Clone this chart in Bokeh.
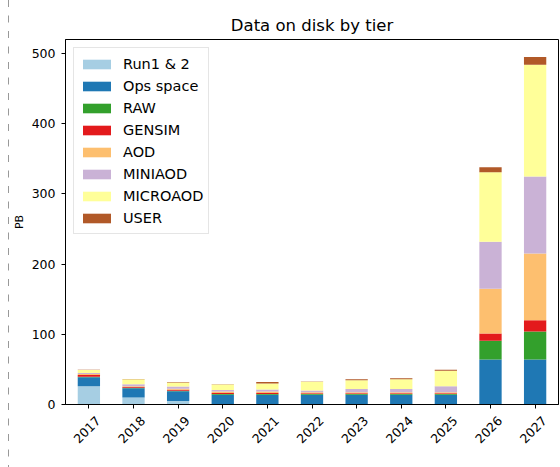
import math
from bokeh.plotting import figure
from bokeh.models import (ColumnDataSource, Legend, LegendItem, Div, FixedTicker,
                          Range1d, LinearAxis)
from bokeh.layouts import row
from bokeh.embed import file_html
from bokeh.resources import INLINE

years = ["2017", "2018", "2019", "2020", "2021", "2022", "2023", "2024", "2025", "2026", "2027"]
run12    = [26, 10, 5, 0, 0, 0, 0, 0, 0, 0, 0]
ops      = [13, 13, 14, 14, 14, 14, 14, 14, 14, 64, 64]
raw      = [0.5, 1, 0.5, 1, 1, 1, 1, 1, 1, 27, 40]
gensim   = [2.5, 1, 1.5, 1.5, 1.5, 1, 1, 1, 1, 10, 16]
aod      = [1.5, 1, 1.5, 2, 2, 1.5, 1.5, 1.5, 1.5, 64, 95]
miniaod  = [1.5, 3, 3, 2, 3, 2.5, 4.5, 4.5, 8.5, 67, 110]
microaod = [4, 7, 6, 8, 8.5, 12.5, 12.5, 14, 22, 99, 159]
user     = [0.5, 0.5, 0.5, 0.5, 2, 0.3, 1.5, 1.5, 1.5, 7, 11]

tiers = ["Run1 & 2", "Ops space", "RAW", "GENSIM", "AOD", "MINIAOD", "MICROAOD", "USER"]
keys = ["run12", "ops", "raw", "gensim", "aod", "miniaod", "microaod", "user"]
colors = ["#a6cee3", "#1f78b4", "#33a02c", "#e31a1c", "#fdbf6f", "#cab2d6", "#ffff99", "#b15928"]
y_ticks = [0, 100, 200, 300, 400, 500]

xs = list(range(len(years)))
src = ColumnDataSource(dict(x=xs, run12=run12, ops=ops, raw=raw, gensim=gensim, aod=aod,
                            miniaod=miniaod, microaod=microaod, user=user))

FONT = "DejaVu Sans"
X0, X1 = -0.524, 10.524
SHIFT = 0.21  # label range shift so right-aligned rotated labels sit centred under ticks
p = figure(width=551, height=467, output_backend="svg", toolbar_location=None,
           x_range=Range1d(X0, X1), y_range=Range1d(0, 520),
           title="Data on disk by tier",
           min_border_left=52, min_border_right=2, min_border_top=39, min_border_bottom=63)
p.margin = (0, 0, 0, 0)
p.extra_x_ranges = {"lab": Range1d(X0 - SHIFT, X1 - SHIFT)}

rs = p.vbar_stack(keys, x="x", width=0.5, color=colors, line_color=None, source=src)

p.title.align = "center"
p.title.text_font = FONT
p.title.text_font_size = "16.5px"
p.title.text_font_style = "normal"
p.title.text_color = "black"

p.xgrid.visible = False
p.ygrid.visible = False
p.outline_line_color = "black"
p.outline_line_width = 1

# main x axis: tick marks only
p.xaxis.ticker = FixedTicker(ticks=xs)
p.xaxis.major_label_overrides = {i: "" for i in xs}
p.xaxis.major_label_standoff = 0
p.xaxis.major_label_text_font_size = "1px"
p.xaxis.minor_tick_line_color = None
p.xaxis.major_tick_in = 0
p.xaxis.major_tick_out = 4
p.xaxis.axis_line_color = "black"
p.xaxis.major_tick_line_color = "black"

# label axis: rotated year labels
lab_axis = LinearAxis(x_range_name="lab", ticker=FixedTicker(ticks=xs),
                      major_label_overrides={i: y for i, y in zip(xs, years)},
                      major_label_orientation=math.pi / 4,
                      major_label_standoff=10,
                      major_tick_in=0, major_tick_out=0,
                      major_tick_line_color=None, minor_tick_line_color=None,
                      axis_line_color=None,
                      major_label_text_font=FONT, major_label_text_font_size="12.5px",
                      major_label_text_color="black")
p.add_layout(lab_axis, "below")

p.yaxis.ticker = FixedTicker(ticks=y_ticks)
p.yaxis.minor_tick_line_color = None
p.yaxis.major_tick_in = 0
p.yaxis.major_tick_out = 4
p.yaxis.major_label_standoff = 6
p.yaxis.axis_line_color = "black"
p.yaxis.major_tick_line_color = "black"
p.yaxis.major_label_text_font = FONT
p.yaxis.major_label_text_font_size = "12.5px"
p.yaxis.major_label_text_color = "black"
p.yaxis.axis_label = "PB"
p.yaxis.axis_label_text_font = FONT
p.yaxis.axis_label_text_font_size = "11px"
p.yaxis.axis_label_text_font_style = "normal"
p.yaxis.axis_label_text_color = "black"
p.yaxis.axis_label_standoff = 3

legend = Legend(items=[LegendItem(label=t, renderers=[r]) for t, r in zip(tiers, rs)],
                location="top_left", margin=8, padding=5, spacing=1,
                label_height=21, glyph_height=12, glyph_width=35, label_standoff=9,
                label_text_font=FONT, label_text_font_size="14.5px", label_text_color="black",
                border_line_color="#cccccc", border_line_width=1,
                background_fill_color="white", background_fill_alpha=0.8)
p.add_layout(legend)

dash = Div(width=9, height=467, margin=(0, 0, 0, 0),
           styles={"padding": "0", "margin": "0"},
           text='<svg width="9" height="467" style="display:block">'
                '<line x1="8.5" y1="0" x2="8.5" y2="467" stroke="#999999" '
                'stroke-width="1" stroke-dasharray="7 8.5"/></svg>')

layout = row(dash, p, spacing=0)
layout.margin = (0, 0, 0, 0)
open("out.html", "w").write(file_html(layout, INLINE))
